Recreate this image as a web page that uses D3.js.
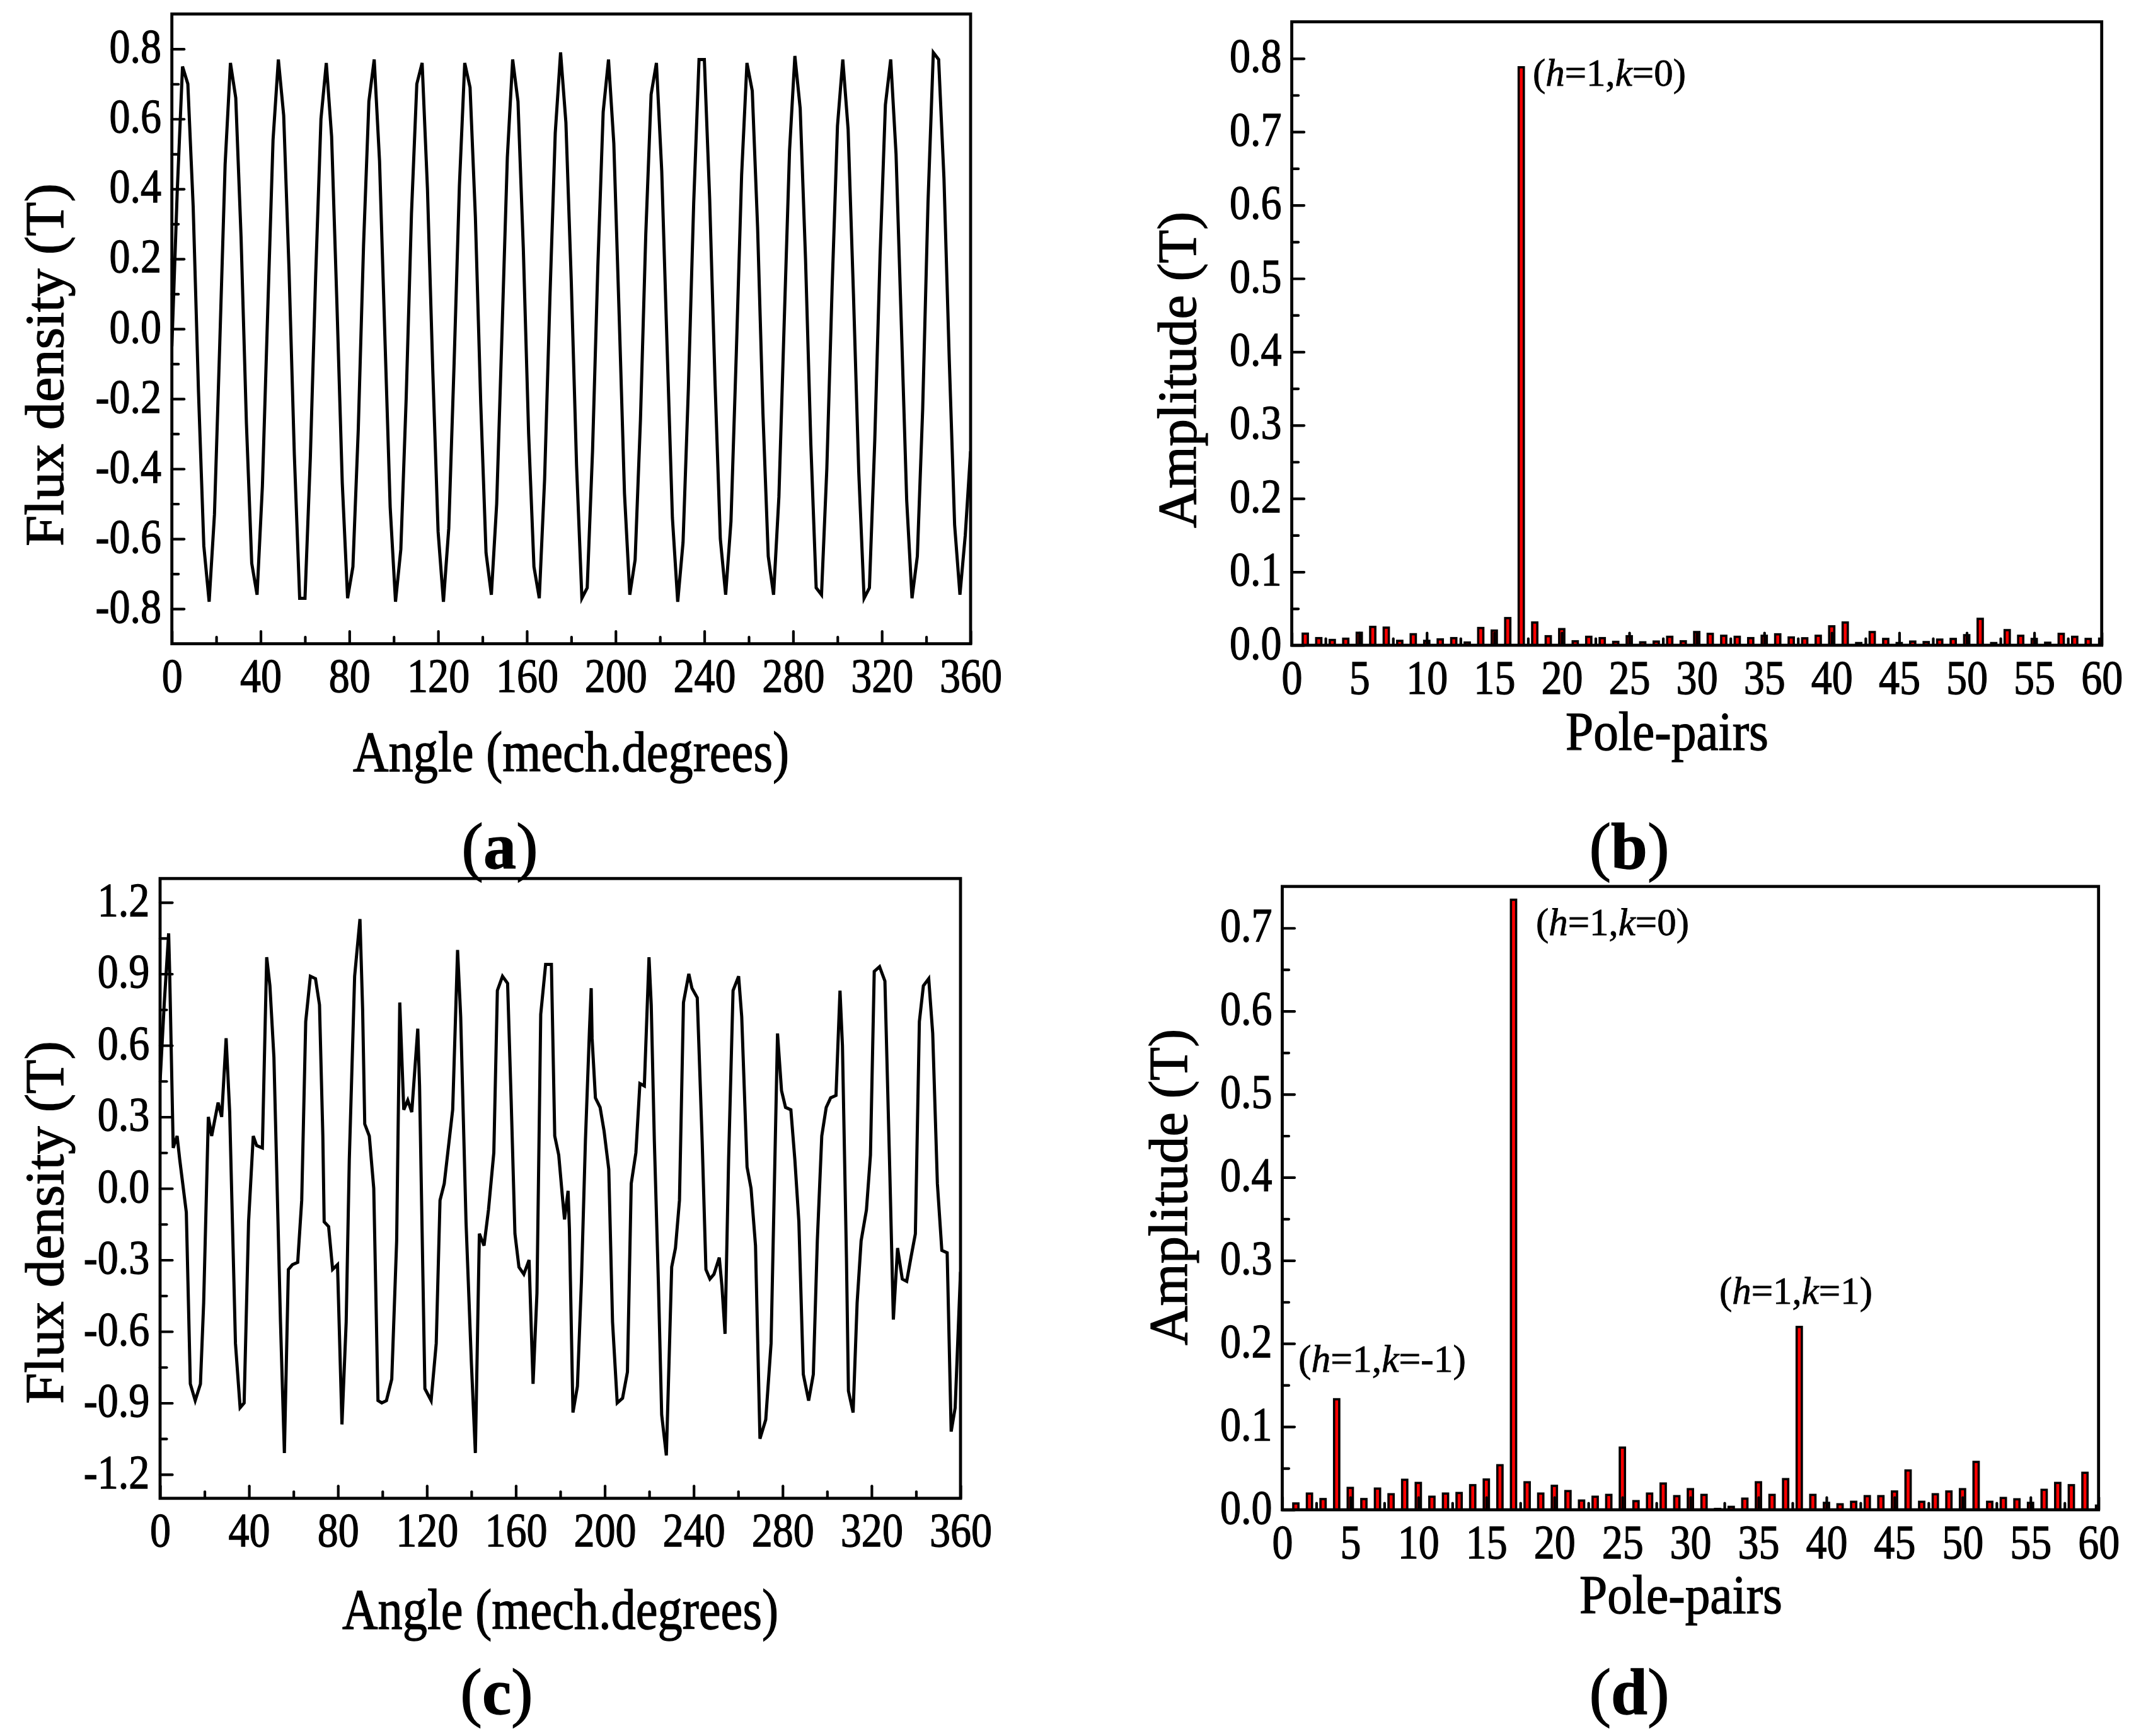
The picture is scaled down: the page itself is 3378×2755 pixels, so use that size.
<!DOCTYPE html>
<html>
<head>
<meta charset="utf-8">
<script src="https://cdn.jsdelivr.net/npm/d3@7"></script>
<style>
  body { margin: 0; background: #fff; }
  text { fill: #000; stroke: #000; stroke-width: 1.3px; }
</style>
</head>
<body>
<svg id="fig" width="3378" height="2755"></svg>
<script>
// ---- data ----

// (a) no-load air-gap flux density, sampled every 2.4 mech. degrees
var aStep = 2.4;
var aFlux = [
  -0.05, 0.39, 0.75, 0.70, 0.35, -0.18, -0.62, -0.78, -0.53, -0.04,
  0.47, 0.76, 0.66, 0.26, -0.27, -0.67, -0.76, -0.45, 0.05, 0.54,
  0.77, 0.61, 0.17, -0.36, -0.77, -0.77, -0.37, 0.15, 0.60, 0.76,
  0.55, 0.07, -0.44, -0.77, -0.68, -0.29, 0.24, 0.65, 0.77, 0.48,
  -0.02, -0.51, -0.78, -0.63, -0.20, 0.33, 0.70, 0.76, 0.40, -0.12,
  -0.58, -0.78, -0.57, -0.10, 0.41, 0.76, 0.69, 0.32, -0.21, -0.64,
  -0.76, -0.50, -0.01, 0.49, 0.77, 0.65, 0.23, -0.30, -0.68, -0.77,
  -0.43, 0.09, 0.56, 0.79, 0.59, 0.14, -0.39, -0.77, -0.74, -0.35,
  0.18, 0.62, 0.77, 0.53, 0.04, -0.47, -0.76, -0.66, -0.26, 0.27,
  0.67, 0.76, 0.45, -0.05, -0.54, -0.78, -0.61, -0.17, 0.36, 0.77,
  0.77, 0.37, -0.15, -0.60, -0.76, -0.55, -0.07, 0.44, 0.76, 0.68,
  0.29, -0.24, -0.65, -0.76, -0.48, 0.02, 0.51, 0.78, 0.63, 0.20,
  -0.33, -0.74, -0.76, -0.40, 0.12, 0.58, 0.77, 0.57, 0.10, -0.41,
  -0.77, -0.74, -0.32, 0.21, 0.64, 0.77, 0.50, 0.01, -0.49, -0.77,
  -0.65, -0.23, 0.36, 0.79, 0.77, 0.43, -0.09, -0.56, -0.76, -0.59,
  -0.35
];

// (c) flux density with stator slotting
var cAngle = [
  0, 1.9, 3.85, 4.3, 5.9, 7.66, 8.85, 11.8, 13.6, 15.8,
  18.15, 19.6, 21.7, 23.2, 26.1, 27.7, 29.7, 31.3, 33.9, 36.0,
  37.8, 39.8, 41.9, 43.4, 46.0, 47.95, 49.4, 51.2, 54.15, 55.9,
  57.7, 59.5, 61.9, 63.7, 65.5, 67.6, 69.9, 71.7, 73.2, 73.8,
  75.8, 77.6, 79.8, 81.8, 83.7, 85.1, 87.5, 89.9, 91.1, 92.05,
  94.1, 96.1, 98.0, 99.7, 101.8, 104.2, 106.4, 107.8, 109.6, 111.4,
  113.2, 115.9, 116.7, 119.1, 121.9, 124.2, 125.9, 127.8, 131.6, 133.8,
  135.2, 137.6, 140.0, 141.8, 143.6, 145.7, 147.7, 150.1, 151.7, 154.0,
  156.3, 157.9, 159.6, 161.4, 163.6, 165.96, 167.75, 169.5, 171.2, 173.4,
  176.0, 177.5, 179.3, 181.1, 181.9, 183.5, 184.1, 185.7, 187.7, 189.5,
  191.3, 193.1, 193.9, 194.3, 195.8, 197.9, 199.7, 201.8, 203.5, 205.6,
  208.0, 210.2, 211.9, 214.0, 215.8, 217.8, 219.9, 220.9, 222.3, 224.1,
  225.6, 227.7, 228.9, 230.1, 231.8, 233.6, 235.4, 237.8, 239.2, 241.6,
  243.8, 245.5, 247.3, 249.1, 251.5, 252.7, 254.1, 255.7, 257.7, 260.2,
  261.6, 264.0, 265.8, 267.8, 269.8, 272.4, 274.8, 277.7, 279.5, 281.3,
  283.7, 285.5, 287.3, 289.3, 291.7, 293.8, 295.6, 297.6, 299.6, 301.6,
  304.0, 305.8, 306.9, 308.7, 309.6, 311.7, 313.5, 315.3, 317.7, 319.5,
  321.2, 323.6, 326.0, 328.2, 329.8, 331.7, 333.8, 335.8, 337.7, 339.7,
  341.5, 343.3, 345.7, 347.5, 349.6, 351.6, 354.0, 355.8, 357.6, 360
];
var cFlux = [
  0.45, 0.78, 1.07, 0.91, 0.17, 0.22, 0.12, -0.10, -0.82, -0.89,
  -0.82, -0.48, 0.30, 0.22, 0.36, 0.30, 0.63, 0.32, -0.65, -0.92,
  -0.90, -0.14, 0.22, 0.18, 0.17, 0.97, 0.85, 0.55, -0.56, -1.11,
  -0.34, -0.32, -0.31, -0.05, 0.70, 0.89, 0.88, 0.77, 0.22, -0.14,
  -0.16, -0.34, -0.32, -0.99, -0.56, 0.12, 0.89, 1.13, 0.75, 0.27,
  0.22, 0.00, -0.89, -0.90, -0.89, -0.80, -0.22, 0.78, 0.33, 0.37,
  0.32, 0.67, 0.43, -0.84, -0.89, -0.65, -0.05, 0.02, 0.33, 1.00,
  0.72, -0.14, -0.73, -1.11, -0.19, -0.24, -0.09, 0.15, 0.83, 0.89,
  0.86, 0.37, -0.19, -0.33, -0.36, -0.30, -0.82, -0.44, 0.73, 0.94,
  0.94, 0.22, 0.14, -0.05, -0.13, -0.01, -0.17, -0.94, -0.83, -0.39,
  0.20, 0.66, 0.84, 0.63, 0.38, 0.34, 0.24, 0.08, -0.56, -0.90,
  -0.88, -0.77, 0.02, 0.15, 0.44, 0.43, 0.97, 0.77, 0.20, -0.39,
  -0.95, -1.12, -0.73, -0.33, -0.25, -0.05, 0.78, 0.90, 0.84, 0.80,
  0.20, -0.34, -0.38, -0.36, -0.29, -0.41, -0.61, 0.12, 0.83, 0.89,
  0.72, 0.09, 0.00, -0.24, -1.05, -0.97, -0.65, 0.65, 0.41, 0.34,
  0.33, 0.12, -0.14, -0.78, -0.89, -0.78, -0.22, 0.22, 0.34, 0.38,
  0.39, 0.83, 0.60, -0.29, -0.85, -0.94, -0.48, -0.22, -0.09, 0.14,
  0.91, 0.93, 0.87, 0.07, -0.55, -0.25, -0.38, -0.39, -0.29, -0.19,
  0.70, 0.85, 0.88, 0.65, 0.02, -0.26, -0.27, -1.02, -0.92, -0.35
];

// (b), (d) harmonic spectra, pole-pairs 1..60
var polePairs = [
  1, 2, 3, 4, 5, 6, 7, 8, 9, 10, 11, 12, 13, 14, 15, 16, 17, 18, 19, 20,
  21, 22, 23, 24, 25, 26, 27, 28, 29, 30, 31, 32, 33, 34, 35, 36, 37, 38, 39, 40,
  41, 42, 43, 44, 45, 46, 47, 48, 49, 50, 51, 52, 53, 54, 55, 56, 57, 58, 59, 60
];
var bAmp = [
  0.0158, 0.0097, 0.0072, 0.0089, 0.017, 0.025, 0.024, 0.006, 0.015, 0.006,
  0.008, 0.0097, 0.0037, 0.0235, 0.020, 0.037, 0.788, 0.031, 0.0123, 0.022,
  0.0054, 0.0115, 0.0097, 0.0046, 0.0123, 0.004, 0.005, 0.0115, 0.0054, 0.018,
  0.0155, 0.0129, 0.0115, 0.0097, 0.0129, 0.0149, 0.0106, 0.0095, 0.0129, 0.0258,
  0.031, 0.003, 0.018, 0.0086, 0.003, 0.005, 0.0043, 0.0077, 0.0086, 0.0137,
  0.036, 0.003, 0.0206, 0.0129, 0.0086, 0.0034, 0.0155, 0.0115, 0.0086, 0.009
];
var dAmp = [
  0.0076, 0.0195, 0.0129, 0.133, 0.0263, 0.0129, 0.0255, 0.0187, 0.0361, 0.0323,
  0.0157, 0.0195, 0.0202, 0.0296, 0.0364, 0.0536, 0.734, 0.0331, 0.0195, 0.0288,
  0.0225, 0.0111, 0.0157, 0.0179, 0.0748, 0.0104, 0.0195, 0.0316, 0.0164, 0.0248,
  0.0179, 0.001, 0.0035, 0.0134, 0.0331, 0.0179, 0.0369, 0.220, 0.0179, 0.0083,
  0.0066, 0.0096, 0.0164, 0.0164, 0.022, 0.0473, 0.0096, 0.0187, 0.022, 0.0248,
  0.0576, 0.0096, 0.0142, 0.0126, 0.0083, 0.024, 0.0323, 0.0296, 0.0445, 0.005
];

// tick labels
var angleTicks = [0, 40, 80, 120, 160, 200, 240, 280, 320, 360];
var aFluxTicks = [-0.8, -0.6, -0.4, -0.2, 0, 0.2, 0.4, 0.6, 0.8];
var cFluxTicks = [-1.2, -0.9, -0.6, -0.3, 0, 0.3, 0.6, 0.9, 1.2];
var poleTicks = [0, 5, 10, 15, 20, 25, 30, 35, 40, 45, 50, 55, 60];
var bAmpTicks = [0, 0.1, 0.2, 0.3, 0.4, 0.5, 0.6, 0.7, 0.8];
var dAmpTicks = [0, 0.1, 0.2, 0.3, 0.4, 0.5, 0.6, 0.7];

// ---- drawing ----
var SERIF = '"Liberation Serif", "Times New Roman", serif';
var TICK_FONT = 75.5;
var svg = d3.select('#fig');

// squeeze text horizontally, the figure's lettering is narrow
function squeeze(sel, factor) {
  sel.each(function() {
    var len = this.getComputedTextLength();
    d3.select(this).attr('textLength', len * factor).attr('lengthAdjust', 'spacingAndGlyphs');
  });
}

function midpoints(arr) {
  return d3.pairs(arr, function(a, b) { return (a + b) / 2; });
}

function fmt1(v) { return v.toFixed(1); }

// Build a panel: scales, clip and a group for the marks.
function makePanel(id, o) {
  var x = d3.scaleLinear().domain(o.xDomain).range([o.l, o.r]);
  var y = d3.scaleLinear().domain(o.yDomain).range([o.b, o.t]);
  var g = svg.append('g').attr('class', 'panel-' + id);
  svg.append('clipPath').attr('id', 'clip-' + id)
     .append('rect')
     .attr('x', o.l).attr('y', o.t)
     .attr('width', o.r - o.l).attr('height', o.b - o.t);
  var marks = g.append('g').attr('clip-path', 'url(#clip-' + id + ')');
  return { g: g, marks: marks, x: x, y: y, o: o };
}

// Axes with inward ticks, drawn after the marks so the ticks sit on top.
function drawAxes(p, xTicks, yTicks, xFmt, yFmt, yPad) {
  var o = p.o;
  var g = p.g.append('g');

  g.append('g').attr('transform', 'translate(0,' + o.b + ')')
    .call(d3.axisBottom(p.x).tickValues(midpoints(xTicks)).tickSize(-10.5).tickFormat(''));
  g.append('g').attr('transform', 'translate(0,' + o.b + ')')
    .call(d3.axisBottom(p.x).tickValues(xTicks).tickSize(-19.5).tickPadding(23).tickFormat(xFmt));
  g.append('g').attr('transform', 'translate(' + o.l + ',0)')
    .call(d3.axisLeft(p.y).tickValues(midpoints(yTicks)).tickSize(-10.5).tickFormat(''));
  var yMajor = g.append('g').attr('transform', 'translate(' + o.l + ',0)')
    .call(d3.axisLeft(p.y).tickValues(yTicks).tickSize(-19.5).tickPadding(yPad).tickFormat(yFmt));

  g.selectAll('.domain').remove();
  g.selectAll('.tick line')
   .attr('stroke', '#000')
   .attr('stroke-width', 4.2)
   .attr('stroke-linecap', 'round');
  g.selectAll('g').attr('font-family', SERIF).attr('font-size', TICK_FONT);
  yMajor.selectAll('text').attr('dy', '0.28em');
  g.selectAll('.tick text').attr('fill', '#000').call(squeeze, 0.875);

  // frame
  p.g.append('rect')
     .attr('x', o.l).attr('y', o.t)
     .attr('width', o.r - o.l).attr('height', o.b - o.t)
     .attr('fill', 'none')
     .attr('stroke', '#000')
     .attr('stroke-width', 4.8);
}

function addText(str, o) {
  var t = svg.append('text')
    .attr('x', o.x).attr('y', o.y)
    .attr('text-anchor', o.anchor || 'middle')
    .attr('font-family', SERIF)
    .attr('font-size', o.size)
    .text(str);
  if (o.rotate) t.attr('transform', 'rotate(-90,' + o.x + ',' + o.y + ')');
  if (o.len) t.attr('textLength', o.len).attr('lengthAdjust', 'spacingAndGlyphs');
  return t;
}

// "(h=1,k=0)" style label with italic h and k
function harmonicLabel(kText, o) {
  var t = svg.append('text')
    .attr('x', o.x).attr('y', o.y)
    .attr('font-family', SERIF)
    .attr('font-size', 62)
    .style('stroke-width', '0.8px');
  t.append('tspan').text('(');
  t.append('tspan').attr('font-style', 'italic').text('h');
  t.append('tspan').text('=1,');
  t.append('tspan').attr('font-style', 'italic').text('k');
  t.append('tspan').text('=' + kText + ')');
  t.attr('textLength', o.len).attr('lengthAdjust', 'spacingAndGlyphs');
}

function panelLabel(letter, x, y) {
  var t = svg.append('text')
    .attr('x', x).attr('y', y)
    .attr('text-anchor', 'middle')
    .attr('font-family', SERIF)
    .attr('font-size', 104);
  t.append('tspan').text('(');
  t.append('tspan').attr('font-weight', 'bold').text(letter);
  t.append('tspan').text(')');
}

function drawLine(p, pts) {
  var line = d3.line()
    .x(function(d) { return p.x(d[0]); })
    .y(function(d) { return p.y(d[1]); });
  p.marks.append('path')
    .datum(pts)
    .attr('d', line)
    .attr('fill', 'none')
    .attr('stroke', '#000')
    .attr('stroke-width', 5)
    .attr('stroke-linejoin', 'miter');
}

function drawBars(p, cats, vals) {
  var w = (p.x(1) - p.x(0)) * 0.38;
  p.marks.selectAll('rect.bar')
    .data(d3.zip(cats, vals))
    .enter().append('rect')
    .attr('class', 'bar')
    .attr('x', function(d) { return p.x(d[0]) - w / 2; })
    .attr('y', function(d) { return p.y(d[1]); })
    .attr('width', w)
    .attr('height', function(d) { return p.y(0) - p.y(d[1]); })
    .attr('fill', '#ff0000')
    .attr('stroke', '#000')
    .attr('stroke-width', 3.6);
}

// (a)
var pa = makePanel('a', { l: 272.7, r: 1540, t: 22.2, b: 1021.6, xDomain: [0, 360], yDomain: [-0.9, 0.9] });
drawLine(pa, aFlux.map(function(v, i) { return [i * aStep, v]; }));
drawAxes(pa, angleTicks, aFluxTicks, d3.format('d'), fmt1, 16.7);
addText('Angle (mech.degrees)', { x: 906, y: 1224, size: 92, len: 692 });
addText('Flux density (T)', { x: 100, y: 579, size: 86, len: 576, rotate: true });
panelLabel('a', 793, 1378);

// (b)
var pb = makePanel('b', { l: 2049.6, r: 3334.7, t: 34.6, b: 1024, xDomain: [0, 60], yDomain: [0, 0.85] });
drawBars(pb, polePairs, bAmp);
drawAxes(pb, poleTicks, bAmpTicks, d3.format('d'), fmt1, 16);
addText('Pole-pairs', { x: 2645, y: 1190, size: 86, len: 322 });
addText('Amplitude (T)', { x: 1897, y: 587, size: 86, len: 502, rotate: true });
harmonicLabel('0', { x: 2432, y: 136, len: 243 });
panelLabel('b', 2585, 1378);

// (c)
var pc = makePanel('c', { l: 254, r: 1524, t: 1394.2, b: 2377.8, xDomain: [0, 360], yDomain: [-1.3, 1.3] });
drawLine(pc, d3.zip(cAngle, cFlux));
drawAxes(pc, angleTicks, cFluxTicks, d3.format('d'), fmt1, 16.7);
addText('Angle (mech.degrees)', { x: 889, y: 2585, size: 92, len: 692 });
addText('Flux density (T)', { x: 100, y: 1940, size: 86, len: 576, rotate: true });
panelLabel('c', 788, 2720);

// (d)
var pd = makePanel('d', { l: 2034.5, r: 3329.7, t: 1406.8, b: 2396, xDomain: [0, 60], yDomain: [0, 0.75] });
drawBars(pd, polePairs, dAmp);
drawAxes(pd, poleTicks, dAmpTicks, d3.format('d'), fmt1, 16);
addText('Pole-pairs', { x: 2667, y: 2560, size: 86, len: 322 });
addText('Amplitude (T)', { x: 1883, y: 1884, size: 86, len: 502, rotate: true });
harmonicLabel('-1', { x: 2060, y: 2177, len: 266 });
harmonicLabel('0', { x: 2437, y: 1484, len: 243 });
harmonicLabel('1', { x: 2728, y: 2069, len: 243 });
panelLabel('d', 2585, 2720);
</script>
</body>
</html>
